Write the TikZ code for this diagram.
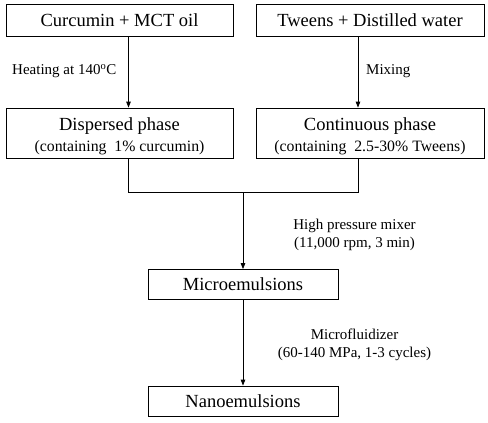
\documentclass[tikz,border=0pt]{standalone}
\usepackage{fontspec}
\setmainfont{Liberation Serif}
\usetikzlibrary{arrows.meta}
\begin{document}
\begin{tikzpicture}[x=1pt,y=-1pt,
  box/.style={draw,line width=0.8pt,inner sep=0pt,align=center,font=\fontsize{18.5}{20}\selectfont},
  lbl/.style={align=center,font=\fontsize{15}{18}\selectfont,inner sep=0pt},
  conn/.style={line width=0.8pt},
  arr/.style={conn,-{Triangle[length=6pt,width=4.5pt]}}]
\useasboundingbox (0,0) rectangle (488,423);
\node[box,minimum width=227pt,minimum height=32pt] (b1) at (119.5,20) {Curcumin + MCT oil};
\node[box,minimum width=228pt,minimum height=32pt] (b2) at (370,20) {Tweens + Distilled water};
\node[box,minimum width=227pt,minimum height=50pt,font=\fontsize{18.5}{21}\selectfont] (b3) at (119.5,133) {\rule{0pt}{20pt}Dispersed phase\\{\fontsize{15.8}{16}\selectfont (containing\ \ 1\% curcumin)}};
\node[box,minimum width=228pt,minimum height=50pt,font=\fontsize{18.5}{21}\selectfont] (b4) at (370,133) {\rule{0pt}{20pt}Continuous phase\\{\fontsize{15.8}{16}\selectfont (containing\ \ 2.5-30\% Tweens)}};
\node[box,minimum width=190pt,minimum height=30pt] (b5) at (243,284.5) {Microemulsions};
\node[box,minimum width=190pt,minimum height=30pt] (b6) at (243,401) {Nanoemulsions};
\draw[arr] ([xshift=9pt]b1.south) -- ([xshift=9pt]b3.north);
\draw[arr] ([xshift=-12pt]b2.south) -- ([xshift=-12pt]b4.north);
\coordinate (jl) at (128.5,192);
\coordinate (jr) at (358,192);
\coordinate (jm) at (243,192);
\draw[conn] ([xshift=9pt]b3.south) -- (jl) -- (jr) -- ([xshift=-12pt]b4.south);
\draw[arr] (jm) -- (b5.north);
\draw[arr] (b5.south) -- (b6.north);
\node[lbl,anchor=west] (l1) at (12,71.5) {Heating at 140\textsuperscript{o}C};
\node[lbl,anchor=west] (l2) at (366,71.5) {Mixing};
\node[lbl] (l3) at (354.5,234.5) {High pressure mixer\\(11,000 rpm, 3 min)};
\node[lbl] (l4) at (354.5,344.5) {Microfluidizer\\(60-140 MPa, 1-3 cycles)};
\end{tikzpicture}
\end{document}
